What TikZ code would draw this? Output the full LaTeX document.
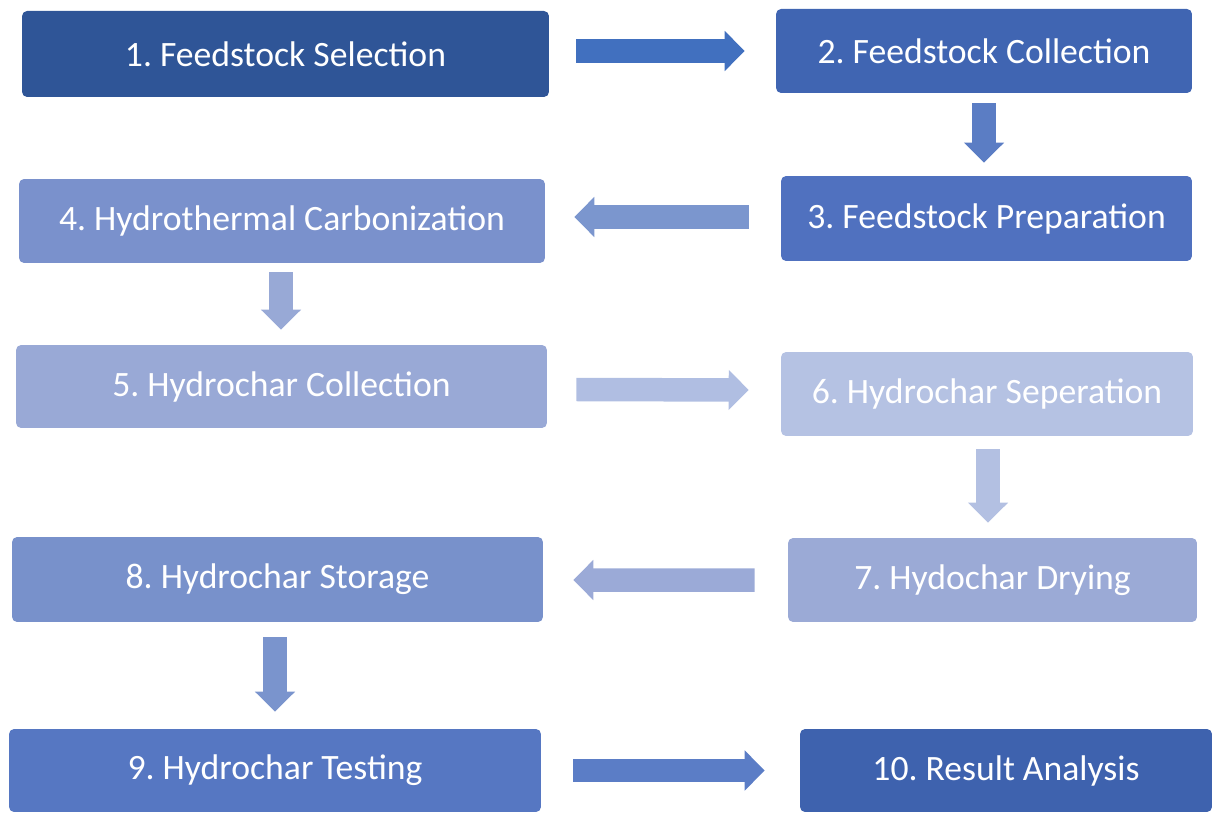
\documentclass[tikz,border=0pt]{standalone}
\usepackage{fontspec}
\setmainfont{Carlito}
\usetikzlibrary{arrows.meta}
\frenchspacing
\definecolor{boxA}{HTML}{2F5597}
\definecolor{boxB}{HTML}{4065B2}
\definecolor{boxC}{HTML}{5071BF}
\definecolor{boxD}{HTML}{7A91CC}
\definecolor{boxE}{HTML}{99A9D6}
\definecolor{boxF}{HTML}{B5C2E3}
\definecolor{boxG}{HTML}{9BAAD6}
\definecolor{boxH}{HTML}{7891CB}
\definecolor{boxI}{HTML}{5677C2}
\definecolor{boxJ}{HTML}{3E62AE}
\definecolor{arrA}{HTML}{4170BF}
\definecolor{arrB}{HTML}{5B7DC4}
\definecolor{arrC}{HTML}{7B96CE}
\definecolor{arrD}{HTML}{98A9D6}
\definecolor{arrE}{HTML}{B0BEE2}
\definecolor{arrF}{HTML}{B3C0E2}
\definecolor{arrG}{HTML}{9BAAD7}
\definecolor{arrH}{HTML}{7A94CD}
\definecolor{arrI}{HTML}{5B7DC6}
\tikzset{stepbox/.style={rectangle,rounded corners=0.1cm,text=white,inner sep=0pt,
    font=\fontsize{20.3}{23}\selectfont},
  flow/.style={line width=0.47cm,-{Triangle[width=0.78cm,length=0.4cm]}},
}

\begin{document}
\begin{tikzpicture}[x=0.02cm,y=-0.02cm]
  \useasboundingbox (0,0) rectangle (1212,813);
  % process steps
  \node[stepbox,fill=boxA,minimum width=10.54cm,minimum height=1.72cm] (n1) at (285.5,54) {1. Feedstock Selection};
  \node[stepbox,fill=boxB,minimum width=8.32cm,minimum height=1.68cm] (n2) at (984,51) {2. Feedstock Collection};
  \node[stepbox,fill=boxC,minimum width=8.22cm,minimum height=1.70cm] (n3) at (986.5,218.5) {3. Feedstock Preparation};
  \node[stepbox,fill=boxD,minimum width=10.52cm,minimum height=1.68cm] (n4) at (282,221) {4. Hydrothermal Carbonization};
  \node[stepbox,fill=boxE,minimum width=10.62cm,minimum height=1.66cm] (n5) at (281.5,386.5) {5. Hydrochar Collection};
  \node[stepbox,fill=boxF,minimum width=8.24cm,minimum height=1.68cm] (n6) at (987,394) {6. Hydrochar Seperation};
  \node[stepbox,fill=boxG,minimum width=8.18cm,minimum height=1.68cm] (n7) at (992.5,580) {7. Hydochar Drying};
  \node[stepbox,fill=boxH,minimum width=10.62cm,minimum height=1.70cm] (n8) at (277.5,579.5) {8. Hydrochar Storage};
  \node[stepbox,fill=boxI,minimum width=10.64cm,minimum height=1.66cm] (n9) at (275,770.5) {9. Hydrochar Testing};
  \node[stepbox,fill=boxJ,minimum width=8.24cm,minimum height=1.66cm] (n10) at (1006,770.5) {10. Result Analysis};

  % block arrows
  \draw[flow,arrA] ([shift={(27,-3)}]n1.east) -- ([shift={(-31,0)}]n2.west);
  \draw[flow,arrB] ([shift={(0,10)}]n2.south) -- ([shift={(-2.5,-13)}]n3.north);
  \draw[flow,arrC] ([shift={(-32,-1.5)}]n3.west) -- ([shift={(29,-4)}]n4.east);
  \draw[flow,arrD] ([shift={(-1,9)}]n4.south) -- ([shift={(-0.5,-15)}]n5.north);
  \draw[flow,arrE] ([shift={(29,3)}]n5.east) -- ([shift={(-32,-4)}]n6.west);
  \draw[flow,arrF] ([shift={(1,13)}]n6.south) -- ([shift={(-4.5,-15)}]n7.north);
  \draw[flow,arrG] ([shift={(-33,0)}]n7.west) -- ([shift={(30,0.5)}]n8.east);
  \draw[flow,arrH] ([shift={(-2.5,15)}]n8.south) -- ([shift={(0,-17)}]n9.north);
  \draw[flow,arrI] ([shift={(32,0)}]n9.east) -- ([shift={(-35,0)}]n10.west);
\end{tikzpicture}
\end{document}
